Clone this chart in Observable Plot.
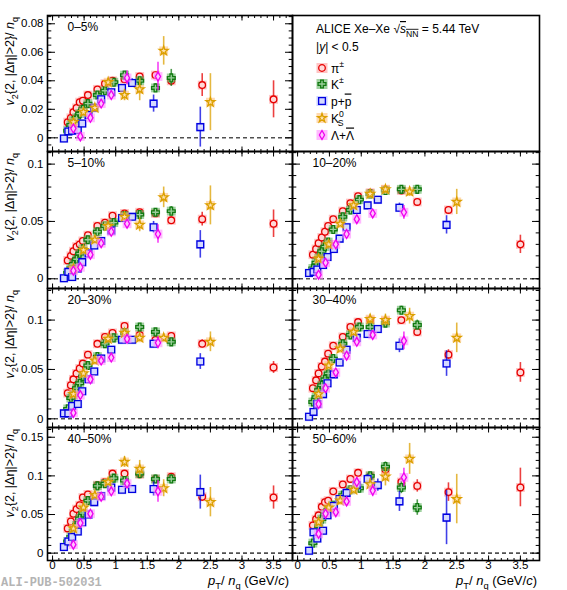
<!DOCTYPE html>
<html><head><meta charset="utf-8">
<script src="https://cdn.jsdelivr.net/npm/d3@7"></script>
<script src="https://cdn.jsdelivr.net/npm/@observablehq/plot@0.6"></script>
<style>
body{margin:0;background:#fff;}
#wrap{position:relative;width:567px;height:590px;font-family:"Liberation Sans",Arial,sans-serif;}
#wrap svg{position:absolute;overflow:visible;}
</style></head><body><div id="wrap"></div>
<script>
// ---------------- DATA ----------------
const centralities = ["0–5%","5–10%","10–20%","20–30%","30–40%","40–50%","50–60%"];
const xPi  = [0.24,0.29,0.33,0.38,0.43,0.48,0.56,0.71,0.83,0.95,1.14,1.38,1.63,1.88,2.37,3.5];
const xK   = [0.24,0.29,0.33,0.38,0.43,0.48,0.56,0.71,0.83,0.97,1.14,1.38,1.63,1.88];
const xP   = [0.18,0.25,0.31,0.40,0.47,0.57,0.66,0.77,0.93,1.10,1.26,1.60,2.34];
const xK0  = [0.33,0.49,0.67,0.88,1.14,1.38,1.76,2.50];
const xLam = [0.33,0.44,0.60,0.77,0.93,1.18,1.67];

// 0–5%
const pi_0_5   = [0.011,0.014,0.018,0.021,0.025,0.026,0.030,0.034,0.038,0.040,0.041,0.043,0.044,0.040,0.037,0.027];
const pi_0_5e  = [0.0005,0.0005,0.0005,0.0005,0.0005,0.0005,0.0005,0.0007,0.0008,0.001,0.0012,0.0015,0.002,0.003,0.008,0.013];
const k_0_5    = [0.005,0.009,0.012,0.014,0.017,0.020,0.024,0.030,0.033,0.039,0.044,0.040,0.035,0.042];
const k_0_5e   = [0.0005,0.0005,0.0005,0.0005,0.0005,0.0006,0.0007,0.0008,0.001,0.0012,0.0015,0.002,0.003,0.006];
const p_0_5    = [-0.0005,0.0045,0.005,0.0055,0.010,0.016,0.021,0.027,0.032,0.035,0.0385,0.024,0.0075];
const p_0_5e   = [0.0005,0.0005,0.0005,0.0005,0.0006,0.0008,0.001,0.0012,0.0015,0.002,0.003,0.006,0.014];
const k0_0_5   = [0.011,0.018,0.021,0.039,0.030,0.034,0.061,0.025];
const k0_0_5e  = [0.001,0.001,0.0015,0.002,0.004,0.008,0.010,0.020];
const lam_0_5  = [0.0065,0.001,0.014,0.024,0.030,0.042,0.043];
const lam_0_5e = [0.001,0.001,0.0015,0.002,0.003,0.005,0.010];
// 5–10%
const pi_5_10   = [0.016,0.020,0.024,0.028,0.030,0.033,0.038,0.046,0.049,0.055,0.057,0.058,0.057,0.051,0.052,0.048];
const pi_5_10e  = [0.0006,0.0006,0.0006,0.0006,0.0006,0.0006,0.0007,0.0008,0.001,0.001,0.0012,0.0015,0.002,0.003,0.006,0.012];
const k_5_10    = [0.005,0.009,0.013,0.017,0.022,0.026,0.034,0.041,0.046,0.049,0.055,0.056,0.058,0.059];
const k_5_10e   = [0.0006,0.0006,0.0006,0.0006,0.0007,0.0008,0.0009,0.001,0.0012,0.0015,0.002,0.002,0.003,0.004];
const p_5_10    = [0.0005,0.006,0.0015,0.009,0.0145,0.022,0.029,0.033,0.042,0.053,0.054,0.045,0.030];
const p_5_10e   = [0.0006,0.0006,0.0006,0.0008,0.001,0.001,0.0012,0.0015,0.002,0.002,0.003,0.005,0.012];
const k0_5_10   = [0.009,0.025,0.034,0.046,0.054,0.047,0.071,0.064];
const k0_5_10e  = [0.001,0.001,0.002,0.002,0.004,0.006,0.009,0.017];
const lam_5_10  = [0.007,0.010,0.021,0.031,0.041,0.048,0.039];
const lam_5_10e = [0.001,0.001,0.0015,0.002,0.002,0.003,0.008];
// 10–20%
const pi_10_20   = [0.021,0.026,0.031,0.036,0.041,0.046,0.052,0.059,0.066,0.072,0.075,0.078,0.077,0.067,0.060,0.030];
const pi_10_20e  = [0.0005,0.0005,0.0005,0.0005,0.0005,0.0005,0.0006,0.0007,0.0008,0.001,0.001,0.0012,0.0015,0.002,0.003,0.008];
const k_10_20    = [0.009,0.014,0.018,0.024,0.028,0.032,0.043,0.054,0.060,0.069,0.074,0.077,0.078,0.078];
const k_10_20e   = [0.0005,0.0005,0.0005,0.0005,0.0006,0.0006,0.0007,0.0008,0.001,0.001,0.0012,0.0015,0.002,0.0025];
const p_10_20    = [0.005,0.006,0.008,0.012,0.019,0.026,0.035,0.045,0.060,0.064,0.069,0.062,0.047];
const p_10_20e   = [0.0005,0.0005,0.0006,0.0007,0.0008,0.001,0.001,0.0012,0.0015,0.002,0.002,0.004,0.008];
const k0_10_20   = [0.0175,0.030,0.048,0.064,0.074,0.078,0.076,0.067];
const k0_10_20e  = [0.001,0.001,0.0015,0.002,0.002,0.003,0.004,0.011];
const lam_10_20  = [0.0035,0.014,0.030,0.039,0.052,0.057,0.058];
const lam_10_20e = [0.001,0.001,0.001,0.0015,0.002,0.002,0.006];
// 20–30%
const pi_20_30   = [0.026,0.034,0.040,0.046,0.051,0.056,0.065,0.076,0.083,0.087,0.094,0.085,0.080,0.084,0.076,0.052];
const pi_20_30e  = [0.0006,0.0006,0.0006,0.0006,0.0006,0.0007,0.0008,0.0009,0.001,0.0012,0.0015,0.0015,0.002,0.002,0.004,0.006];
const k_20_30    = [0.010,0.021,0.024,0.031,0.036,0.043,0.054,0.063,0.076,0.082,0.087,0.093,0.088,0.078];
const k_20_30e   = [0.0006,0.0006,0.0006,0.0007,0.0008,0.0009,0.001,0.0012,0.0015,0.0015,0.002,0.002,0.003,0.003];
const p_20_30    = [0.0055,0.0055,0.013,0.015,0.028,0.040,0.048,0.061,0.070,0.080,0.080,0.076,0.058];
const p_20_30e   = [0.0006,0.0006,0.0007,0.0008,0.001,0.0012,0.0015,0.0015,0.002,0.002,0.003,0.004,0.008];
const k0_20_30   = [0.025,0.046,0.059,0.081,0.087,0.082,0.082,0.078];
const k0_20_30e  = [0.001,0.0015,0.002,0.002,0.003,0.004,0.004,0.010];
const lam_20_30  = [0.006,0.024,0.040,0.059,0.062,0.081,0.077];
const lam_20_30e = [0.001,0.001,0.0015,0.002,0.002,0.003,0.006];
// 30–40%
const pi_30_40   = [0.031,0.039,0.046,0.053,0.058,0.066,0.074,0.083,0.093,0.098,0.100,0.099,0.100,0.088,0.065,0.047];
const pi_30_40e  = [0.0007,0.0007,0.0007,0.0007,0.0008,0.0008,0.0009,0.001,0.0012,0.0015,0.0015,0.002,0.002,0.003,0.005,0.010];
const k_30_40    = [0.017,0.022,0.029,0.034,0.040,0.046,0.061,0.076,0.085,0.093,0.093,0.097,0.110,0.095];
const k_30_40e   = [0.0008,0.0008,0.0008,0.0009,0.001,0.001,0.0012,0.0015,0.0015,0.002,0.002,0.003,0.004,0.005];
const p_30_40    = [0.002,0.007,0.015,0.025,0.036,0.045,0.057,0.070,0.082,0.086,0.091,0.074,0.056];
const p_30_40e   = [0.0008,0.0008,0.001,0.001,0.0012,0.0015,0.0015,0.002,0.002,0.003,0.003,0.007,0.013];
const k0_30_40   = [0.025,0.054,0.071,0.088,0.101,0.100,0.104,0.082];
const k0_30_40e  = [0.001,0.002,0.002,0.003,0.005,0.006,0.008,0.015];
const lam_30_40  = [0.015,0.031,0.047,0.064,0.078,0.085,0.079];
const lam_30_40e = [0.001,0.0015,0.002,0.002,0.003,0.004,0.009];
// 40–50%
const pi_40_50   = [0.032,0.041,0.051,0.057,0.062,0.072,0.076,0.088,0.092,0.103,0.103,0.102,0.096,0.099,0.073,0.072];
const pi_40_50e  = [0.0008,0.0008,0.0008,0.0009,0.001,0.001,0.001,0.0012,0.0015,0.0015,0.002,0.002,0.003,0.003,0.006,0.015];
const k_40_50    = [0.015,0.021,0.029,0.036,0.045,0.052,0.068,0.087,0.090,0.097,0.094,0.103,0.096,0.096];
const k_40_50e   = [0.001,0.001,0.001,0.001,0.0012,0.0012,0.0015,0.0015,0.002,0.002,0.003,0.004,0.005,0.006];
const p_40_50    = [0.008,0.015,0.021,0.028,0.040,0.050,0.066,0.074,0.085,0.082,0.083,0.083,0.079];
const p_40_50e   = [0.001,0.001,0.001,0.0012,0.0015,0.0015,0.002,0.002,0.002,0.003,0.004,0.009,0.022];
const k0_40_50   = [0.032,0.059,0.075,0.092,0.118,0.109,0.084,0.066];
const k0_40_50e  = [0.002,0.002,0.003,0.003,0.007,0.011,0.011,0.019];
const lam_40_50  = [0.011,0.039,0.051,0.073,0.080,0.090,0.080];
const lam_40_50e = [0.001,0.0015,0.002,0.003,0.003,0.006,0.014];
// 50–60%
const pi_50_60   = [0.036,0.044,0.049,0.060,0.066,0.068,0.080,0.089,0.096,0.104,0.100,0.108,0.092,0.087,0.079,0.085];
const pi_50_60e  = [0.001,0.001,0.001,0.0012,0.0012,0.0015,0.0015,0.002,0.002,0.0025,0.003,0.004,0.006,0.008,0.012,0.025];
const k_50_60    = [0.013,0.025,0.035,0.044,0.050,0.056,0.062,0.075,0.082,0.084,0.100,0.112,0.085,0.059];
const k_50_60e   = [0.0012,0.0012,0.0012,0.0015,0.0015,0.0015,0.002,0.002,0.0025,0.003,0.004,0.006,0.008,0.010];
const p_50_60    = [0.003,0.027,0.019,0.029,0.049,0.061,0.070,0.078,0.088,0.096,0.088,0.067,0.046];
const p_50_60e   = [0.001,0.002,0.002,0.002,0.003,0.003,0.003,0.004,0.005,0.006,0.008,0.013,0.035];
const k0_50_60   = [0.040,0.059,0.068,0.082,0.089,0.099,0.122,0.070];
const k0_50_60e  = [0.002,0.002,0.003,0.004,0.008,0.012,0.020,0.032];
const lam_50_60  = [0.025,0.051,0.053,0.067,0.092,0.081,0.098];
const lam_50_60e = [0.002,0.003,0.003,0.004,0.006,0.008,0.012];

const xMajor = [0,0.5,1,1.5,2,2.5,3,3.5];

// table built from the arrays above
const table = {
  "0–5%":   {pi:[pi_0_5,pi_0_5e], K:[k_0_5,k_0_5e], p:[p_0_5,p_0_5e], K0:[k0_0_5,k0_0_5e], Lam:[lam_0_5,lam_0_5e]},
  "5–10%":  {pi:[pi_5_10,pi_5_10e], K:[k_5_10,k_5_10e], p:[p_5_10,p_5_10e], K0:[k0_5_10,k0_5_10e], Lam:[lam_5_10,lam_5_10e]},
  "10–20%": {pi:[pi_10_20,pi_10_20e], K:[k_10_20,k_10_20e], p:[p_10_20,p_10_20e], K0:[k0_10_20,k0_10_20e], Lam:[lam_10_20,lam_10_20e]},
  "20–30%": {pi:[pi_20_30,pi_20_30e], K:[k_20_30,k_20_30e], p:[p_20_30,p_20_30e], K0:[k0_20_30,k0_20_30e], Lam:[lam_20_30,lam_20_30e]},
  "30–40%": {pi:[pi_30_40,pi_30_40e], K:[k_30_40,k_30_40e], p:[p_30_40,p_30_40e], K0:[k0_30_40,k0_30_40e], Lam:[lam_30_40,lam_30_40e]},
  "40–50%": {pi:[pi_40_50,pi_40_50e], K:[k_40_50,k_40_50e], p:[p_40_50,p_40_50e], K0:[k0_40_50,k0_40_50e], Lam:[lam_40_50,lam_40_50e]},
  "50–60%": {pi:[pi_50_60,pi_50_60e], K:[k_50_60,k_50_60e], p:[p_50_60,p_50_60e], K0:[k0_50_60,k0_50_60e], Lam:[lam_50_60,lam_50_60e]}
};

const species = [
  {key:"pi",  x:xPi,  sym:d3.symbolCircle,  r:3.3, color:"#e60000", fill:"#ffd8d8", box:"#ff9c9c"},
  {key:"K",   x:xK,   sym:d3.symbolCross,   r:3.3, color:"#127a12", fill:"#9ccf9c", box:"#5fb35f"},
  {key:"p",   x:xP,   sym:d3.symbolSquare,  r:3.8, color:"#0000e0", fill:"#d4d9ff", box:"#a8b2ff"},
  {key:"K0",  x:xK0,  sym:d3.symbolStar,    r:2.8, color:"#dca000", fill:"#ffe2b0", box:"#ffc27a"},
  {key:"Lam", x:xLam, sym:d3.symbolDiamond, r:2.7, color:"#f000f0", fill:"#ffc4ff", box:"#ff8cff"}
];

// ---------------- LAYOUT ----------------
const FONT = "Liberation Sans, Arial, sans-serif";
const rowTop = [15,151,288,427], rowBot = [151,288,427,560];
const rowsCfg = [
  {dom:[-0.0096,0.0858], major:[0,0.02,0.04,0.06,0.08], step:0.005},
  {dom:[-0.0085,0.111],  major:[0,0.05,0.1],            step:0.01},
  {dom:[-0.0088,0.132],  major:[0,0.05,0.1],            step:0.01},
  {dom:[-0.0095,0.1626], major:[0,0.05,0.1,0.15],       step:0.01}
];
const xDom = [-0.08,3.8];
const xMinor = d3.range(0,39).map(i=>i/10);
const fmt = d => d===0 ? "0" : String(d);

const hTick = len => ({draw(ctx){ctx.moveTo(0,0);ctx.lineTo(len,0);}});
const vTick = len => ({draw(ctx){ctx.moveTo(0,0);ctx.lineTo(0,len);}});

const wrap = d3.select("#wrap");

function rich(sel, parts, size){
  let shift = 0;
  for (const p of parts){
    const ts = sel.append("tspan").text(p.t);
    const target = p.sub ? size*0.32 : p.sup ? -size*0.42 : 0;
    const dy = target - shift;
    if (dy) ts.attr("dy", dy);
    shift = target;
    if (p.sub || p.sup) ts.attr("font-size", size*0.72);
    if (p.it) ts.attr("font-style","italic");
    if (p.over) ts.style("text-decoration","overline");
    if (p.dx) ts.attr("dx", p.dx);
  }
}

function geom(row,col){
  const left = col===0 ? 0 : 287;
  const width = col===0 ? 297 : 280;
  const mL = col===0 ? 47 : 5, mR = col===0 ? 5 : 28;
  const mB = row===3 ? 30 : 5;
  const top = rowTop[row]-5;
  const height = rowBot[row]-rowTop[row]+5+mB;
  return {left,width,mL,mR,mB,top,height};
}

function panel(cent,row,col){
  const g = geom(row,col), rc = rowsCfg[row];
  const yMinor = d3.range(Math.ceil(rc.dom[0]/rc.step), Math.floor(rc.dom[1]/rc.step)+1).map(i=>+(i*rc.step).toFixed(4));
  const marks = [];
  marks.push(Plot.ruleY([0],{stroke:"#505050",strokeWidth:1.6,strokeDasharray:"4,3"}));
  for (const s of species){
    const [ys, es] = table[cent][s.key];
    const rows = s.x.map((x,i)=>({x, y:ys[i], e:es[i]}));
    marks.push(Plot.dot(rows,{x:"x",y:"y",symbol:"square",r:5,fill:s.box,fillOpacity:0.6,stroke:"none"}));
    marks.push(Plot.ruleX(rows,{x:"x",y1:d=>d.y-d.e,y2:d=>d.y+d.e,stroke:s.color,strokeWidth:1.6,strokeOpacity:0.75}));
    marks.push(Plot.dot(rows,{x:"x",y:"y",symbol:s.sym,r:s.r,stroke:s.color,fill:s.fill,strokeWidth:1.3}));
  }
  marks.push(Plot.dot(rc.major,{y:d=>d,frameAnchor:"left",symbol:hTick(7.5),stroke:"black",fill:"none",strokeWidth:1}));
  marks.push(Plot.dot(yMinor,{y:d=>d,frameAnchor:"left",symbol:hTick(3.8),stroke:"black",fill:"none",strokeWidth:1}));
  marks.push(Plot.dot(rc.major,{y:d=>d,frameAnchor:"right",symbol:hTick(-7.5),stroke:"black",fill:"none",strokeWidth:1}));
  marks.push(Plot.dot(yMinor,{y:d=>d,frameAnchor:"right",symbol:hTick(-3.8),stroke:"black",fill:"none",strokeWidth:1}));
  marks.push(Plot.dot(xMajor,{x:d=>d,frameAnchor:"bottom",symbol:vTick(-5),stroke:"black",fill:"none",strokeWidth:1}));
  marks.push(Plot.dot(xMinor,{x:d=>d,frameAnchor:"bottom",symbol:vTick(-2.5),stroke:"black",fill:"none",strokeWidth:1}));
  marks.push(Plot.dot(xMajor,{x:d=>d,frameAnchor:"top",symbol:vTick(5),stroke:"black",fill:"none",strokeWidth:1}));
  marks.push(Plot.dot(xMinor,{x:d=>d,frameAnchor:"top",symbol:vTick(2.5),stroke:"black",fill:"none",strokeWidth:1}));
  if (col===0) marks.push(Plot.text(rc.major,{y:d=>d,text:fmt,frameAnchor:"left",dx:-4,textAnchor:"end",fontSize:11.5,fill:"black"}));
  if (row===3) marks.push(Plot.text(xMajor,{x:d=>d,text:fmt,frameAnchor:"bottom",dy:8.5,fontSize:11.5,fill:"black"}));
  marks.push(Plot.text([cent],{text:d=>d,frameAnchor:"top-left",dx:20,dy:7,lineAnchor:"top",textAnchor:"start",fontSize:12,fill:"black"}));
  marks.push(Plot.frame({stroke:"black",strokeWidth:1.6}));

  const svg = Plot.plot({
    width:g.width,height:g.height,marginLeft:g.mL,marginRight:g.mR,marginTop:5,marginBottom:g.mB,
    x:{domain:xDom,axis:null}, y:{domain:rc.dom,axis:null},
    style:{background:"transparent",fontFamily:FONT,overflow:"visible"},
    marks
  });
  svg.style.left = g.left+"px"; svg.style.top = g.top+"px";
  wrap.node().appendChild(svg);
  const s = d3.select(svg);
  if (col===0){
    const t = s.append("text").attr("transform","translate(13.5,7) rotate(-90)")
      .attr("text-anchor","end").attr("font-family",FONT).attr("font-size",12.5).attr("fill","black");
    rich(t,[{t:"v",it:true},{t:"2",sub:true},{t:"{2, |Δη|>2}/ "},{t:"n",it:true},{t:"q",sub:true}],12.5);
  }
  if (row===3){
    const xEnd = col===0 ? 289 : 250;
    const t = s.append("text").attr("x",xEnd).attr("y",163).attr("text-anchor","end")
      .attr("font-family",FONT).attr("font-size",13).attr("fill","black");
    rich(t,[{t:"p",it:true},{t:"T",sub:true},{t:"/ "},{t:"n",it:true},{t:"q",sub:true},{t:" (GeV/"},{t:"c",it:true},{t:")"}],13);
    if (col===0){
      s.append("text").attr("x",1).attr("y",164).attr("text-anchor","start").attr("font-family","Liberation Mono, Courier New, monospace")
        .attr("font-weight","bold").attr("font-size",12).attr("fill","#b4b4b4").text("ALI-PUB-502031");
    }
  }
}

function legendPanel(){
  const g = geom(0,1);
  const svg = Plot.plot({
    width:g.width,height:g.height,marginLeft:g.mL,marginRight:g.mR,marginTop:5,marginBottom:g.mB,
    x:{domain:[0,1],axis:null}, y:{domain:[0,1],axis:null},
    style:{background:"transparent",fontFamily:FONT,overflow:"visible"},
    marks:[Plot.frame({stroke:"black",strokeWidth:1.6})]
  });
  svg.style.left = g.left+"px"; svg.style.top = g.top+"px";
  wrap.node().appendChild(svg);
  const s = d3.select(svg);
  const t1 = s.append("text").attr("x",29).attr("y",23).attr("text-anchor","start").attr("font-family",FONT).attr("font-size",12).attr("fill","black");
  rich(t1,[{t:"ALICE Xe–Xe "},{t:"√"},{t:"s",it:true,over:true},{t:"NN",sub:true,over:true},{t:" = 5.44 TeV"}],12);
  const t2 = s.append("text").attr("x",29).attr("y",41).attr("text-anchor","start").attr("font-family",FONT).attr("font-size",12).attr("fill","black");
  rich(t2,[{t:"|"},{t:"y",it:true},{t:"| < 0.5"}],12);
  const labels = [
    [{t:"π"},{t:"±",sup:true}],
    [{t:"K"},{t:"±",sup:true}],
    [{t:"p+"},{t:"p",over:true}],
    [{t:"K"},{t:"0",sup:true},{t:"S",sub:true,dx:-6}],
    [{t:"Λ+"},{t:"Λ",over:true}]
  ];
  const ys = [58,74,91,108,125];
  species.forEach((sp,i)=>{
    const y = ys[i];
    s.append("rect").attr("x",29.5).attr("y",y-5).attr("width",11).attr("height",10).attr("fill",sp.box).attr("fill-opacity",0.6);
    s.append("path").attr("transform",`translate(35,${y})`)
      .attr("d",d3.symbol(sp.sym, Math.PI*sp.r*sp.r)())
      .attr("fill",sp.fill).attr("stroke",sp.color).attr("stroke-width",1.3);
    const t = s.append("text").attr("x",44).attr("y",y+4.5).attr("text-anchor","start").attr("font-family",FONT).attr("font-size",12).attr("fill","black");
    rich(t,labels[i],12);
  });
}

panel("0–5%",0,0);
legendPanel();
panel("5–10%",1,0);
panel("10–20%",1,1);
panel("20–30%",2,0);
panel("30–40%",2,1);
panel("40–50%",3,0);
panel("50–60%",3,1);
</script></body></html>
